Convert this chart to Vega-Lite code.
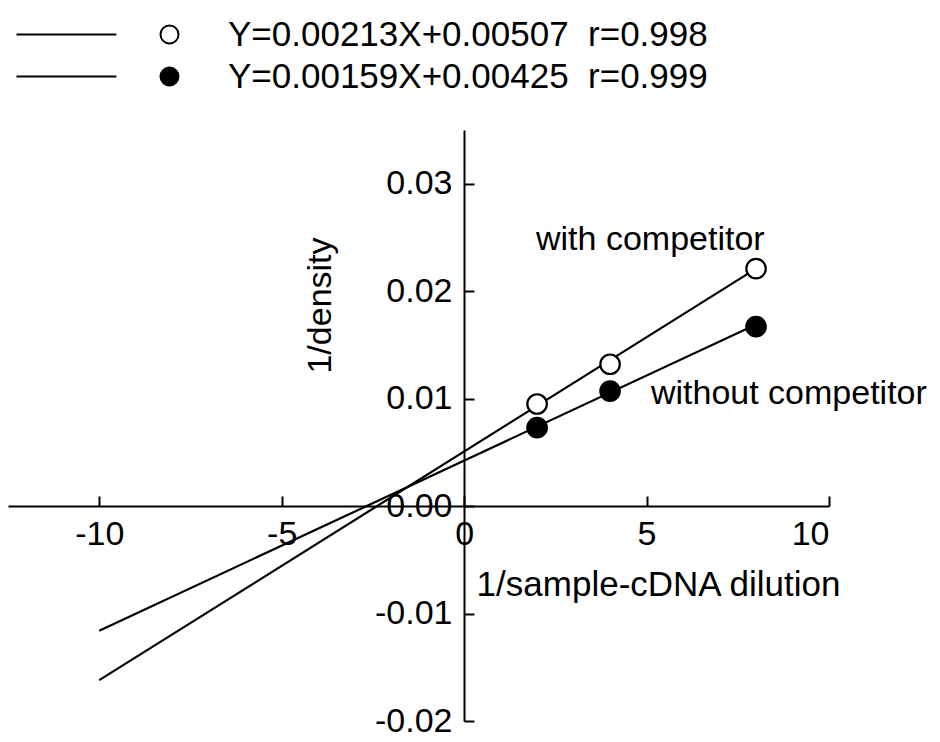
{
  "$schema": "https://vega.github.io/schema/vega-lite/v6.json",
  "width": 821,
  "height": 591,
  "autosize": {"type": "none"},
  "padding": {"left": 8, "top": 130, "right": 111, "bottom": 21},
  "background": "white",
  "config": {"view": {"stroke": null}, "font": "Liberation Sans"},
  "datasets": {
    "fits": [
      {"series": "with competitor", "x": -10, "y": -0.0162},
      {"series": "with competitor", "x": 8, "y": 0.0221},
      {"series": "without competitor", "x": -10, "y": -0.0116},
      {"series": "without competitor", "x": 8, "y": 0.0169}
    ],
    "points": [
      {"series": "with competitor", "x": 2, "y": 0.0095},
      {"series": "with competitor", "x": 4, "y": 0.0132},
      {"series": "with competitor", "x": 8, "y": 0.0221},
      {"series": "without competitor", "x": 2, "y": 0.0073},
      {"series": "without competitor", "x": 4, "y": 0.0107},
      {"series": "without competitor", "x": 8, "y": 0.0167}
    ],
    "notes": [
      {"label": "with competitor", "x": 1.97, "y": 0.0248},
      {"label": "without competitor", "x": 5.12, "y": 0.0104}
    ]
  },
  "encoding": {
    "x": {
      "field": "x", "type": "quantitative",
      "scale": {"domain": [-12.5, 10], "nice": false, "zero": false},
      "axis": {
        "orient": "bottom", "offset": -215,
        "values": [-10, -5, 0, 5, 10],
        "grid": false,
        "tickSize": -10, "tickWidth": 2, "tickColor": "black",
        "domainWidth": 2, "domainColor": "black",
        "labelFontSize": 34, "labelColor": "black", "labelPadding": 21,
        "labelExpr": "replace(datum.label, '−', '-')",
        "title": "1/sample-cDNA dilution",
        "titleFontSize": 35, "titleFontWeight": "normal", "titleColor": "black",
        "titleX": 650, "titleY": 78, "titleAlign": "center", "titleBaseline": "middle"
      }
    },
    "y": {
      "field": "y", "type": "quantitative",
      "scale": {"domain": [-0.02, 0.035], "nice": false, "zero": false},
      "axis": {
        "orient": "left", "offset": -456,
        "values": [-0.02, -0.01, 0, 0.01, 0.02, 0.03],
        "format": ".2f",
        "labelExpr": "replace(datum.label, '−', '-')",
        "grid": false,
        "tickSize": -10, "tickWidth": 2, "tickColor": "black",
        "domainWidth": 2, "domainColor": "black",
        "labelFontSize": 34, "labelColor": "black", "labelPadding": 22,
        "title": "1/density",
        "titleFontSize": 34, "titleFontWeight": "normal", "titleColor": "black",
        "titleAngle": -90, "titleX": -144, "titleY": 175, "titleAlign": "center", "titleBaseline": "middle"
      }
    }
  },
  "layer": [
    {
      "data": {"name": "fits"},
      "mark": {"type": "line", "color": "black", "strokeWidth": 2.2, "clip": false},
      "encoding": {"detail": {"field": "series"}}
    },
    {
      "data": {"name": "points"},
      "mark": {"type": "circle", "stroke": "black", "strokeWidth": 2.2, "size": 380, "opacity": 1},
      "encoding": {
        "fill": {
          "field": "series", "type": "nominal",
          "scale": {"domain": ["with competitor", "without competitor"], "range": ["white", "black"]},
          "legend": {
            "title": null, "orient": "none", "legendX": 144, "legendY": -113,
            "symbolType": "M-17,0H-5.9M1,0A1,1,0,1,1,-1,0A1,1,0,1,1,1,0Z",
            "symbolSize": 324, "symbolStrokeColor": "black", "symbolStrokeWidth": 2, "symbolOpacity": 1,
            "labelFont": "Liberation Sans", "labelFontSize": 35, "labelColor": "black",
            "labelOffset": 41, "rowPadding": 6, "labelLimit": 0,
            "labelExpr": "datum.value === 'with competitor' ? 'Y=0.00213X+0.00507\u00a0 r=0.998' : 'Y=0.00159X+0.00425\u00a0 r=0.999'"
          }
        }
      }
    },
    {
      "data": {"name": "notes"},
      "mark": {"type": "text", "align": "left", "baseline": "middle", "fontSize": 34, "color": "black", "clip": false},
      "encoding": {"text": {"field": "label"}}
    }
  ]
}
